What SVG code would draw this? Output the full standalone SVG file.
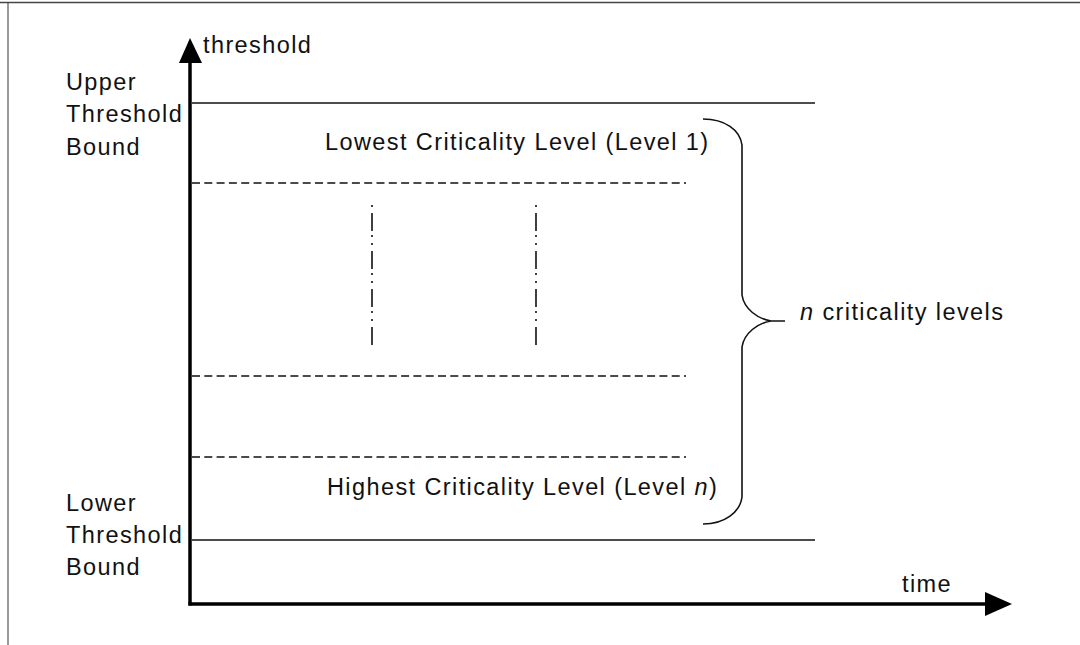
<svg xmlns="http://www.w3.org/2000/svg" width="1080" height="645" viewBox="0 0 1080 645">
  <style>
    text { font-family: "Liberation Sans", Arial, sans-serif; font-size: 23.5px; fill: #111; letter-spacing: 1.4px; }
    .bound { stroke: #111; stroke-width: 1.6; fill: none; }
    .dash { stroke: #111; stroke-width: 1.5; stroke-dasharray: 8 4.3; fill: none; }
    .dashdot { stroke: #111; stroke-width: 1.6; stroke-dasharray: 18 4 2 6 2 6; stroke-dashoffset: 30; fill: none; }
    .axis { stroke: #000; stroke-width: 3.5; fill: none; }
    .brace { stroke: #111; stroke-width: 1.6; fill: none; }
  </style>
  <rect width="1080" height="645" fill="#fff"/>
  <!-- frame -->
  <line x1="0" y1="2.5" x2="1080" y2="2.5" stroke="#444" stroke-width="1.6"/>
  <line x1="8" y1="3" x2="8" y2="645" stroke="#555" stroke-width="1.2"/>

  <g id="connectors">
    <!-- axes -->
    <line class="axis" x1="190" y1="605.5" x2="190" y2="60"/>
    <polygon points="190,38 179,63 202,63" fill="#000"/>
    <line class="axis" x1="188.5" y1="604" x2="988" y2="604"/>
    <polygon points="1012,604 985,592 985,616" fill="#000"/>
    <!-- threshold bounds -->
    <line class="bound" x1="192" y1="103" x2="815" y2="103"/>
    <line class="bound" x1="192" y1="540" x2="815" y2="540"/>
    <!-- level separators -->
    <line class="dash" x1="192" y1="183" x2="686" y2="183"/>
    <line class="dash" x1="192" y1="376" x2="686" y2="376"/>
    <line class="dash" x1="192" y1="457" x2="686" y2="457"/>
    <!-- elided levels -->
    <line class="dashdot" x1="372" y1="205" x2="372" y2="345"/>
    <line class="dashdot" x1="536" y1="205" x2="536" y2="345"/>
    <!-- brace -->
    <path class="brace" d="M703,119 C725,119 740,130 742,145 L742,295 C744,309 758,319 771,321 L785,321 M771,321 C758,323 744,333 742,347 L742,497 C740,512 725,524 703,524"/>
  </g>

  <g id="axis-labels">
    <text x="203" y="53">threshold</text>
    <text x="902" y="592">time</text>
  </g>
  <g id="upper-bound">
    <text x="66" y="90">Upper</text>
    <text x="66" y="122">Threshold</text>
    <text x="66" y="155">Bound</text>
  </g>
  <g id="lower-bound">
    <text x="66" y="511">Lower</text>
    <text x="66" y="543">Threshold</text>
    <text x="66" y="575">Bound</text>
  </g>
  <g id="level-1">
    <text x="325" y="150">Lowest Criticality Level (Level 1)</text>
  </g>
  <g id="level-n">
    <text x="327" y="495">Highest Criticality Level (Level <tspan font-style="italic">n</tspan>)</text>
  </g>
  <g id="levels-count">
    <text x="800" y="320"><tspan font-style="italic">n</tspan> criticality levels</text>
  </g>
</svg>
